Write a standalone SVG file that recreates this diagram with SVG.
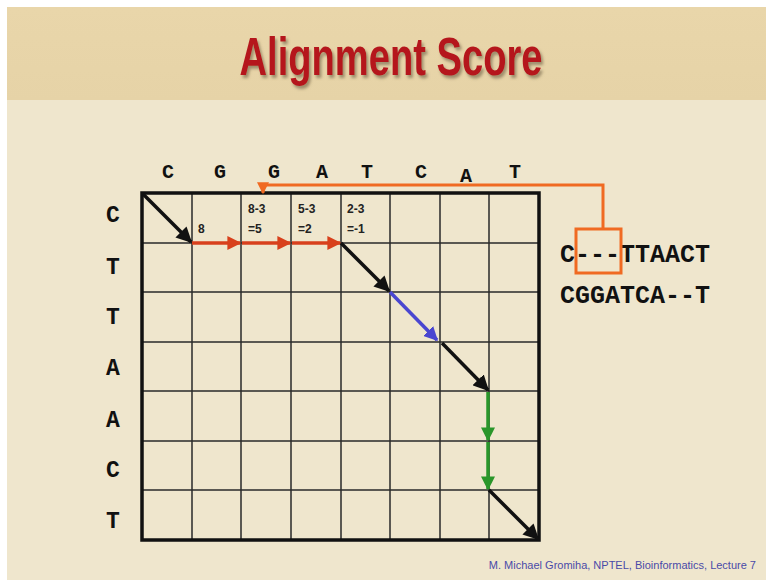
<svg xmlns="http://www.w3.org/2000/svg" width="766" height="580" viewBox="0 0 766 580">
<defs>
<linearGradient id="hdr" x1="0" y1="0" x2="0" y2="1">
<stop offset="0" stop-color="#e9d6aa"/><stop offset="1" stop-color="#e6d3a7"/>
</linearGradient>
<filter id="sh" x="-5%" y="-20%" width="110%" height="150%"><feDropShadow dx="2" dy="3" stdDeviation="1.5" flood-color="#6b5a40" flood-opacity="0.6"/></filter>
<marker id="ak" viewBox="0 0 10 10" refX="9" refY="5" markerWidth="4.5" markerHeight="4.5" orient="auto" markerUnits="strokeWidth"><path d="M0,0 L10,5 L0,10 z" fill="#111"/></marker>
<marker id="ar" viewBox="0 0 10 10" refX="9" refY="5" markerWidth="4" markerHeight="4" orient="auto" markerUnits="strokeWidth"><path d="M0,0 L10,5 L0,10 z" fill="#d8401c"/></marker>
<marker id="ab" viewBox="0 0 10 10" refX="9" refY="5" markerWidth="4" markerHeight="4" orient="auto" markerUnits="strokeWidth"><path d="M0,0 L10,5 L0,10 z" fill="#4a46d0"/></marker>
<marker id="ag" viewBox="0 0 10 10" refX="9" refY="5" markerWidth="4" markerHeight="4" orient="auto" markerUnits="strokeWidth"><path d="M0,0 L10,5 L0,10 z" fill="#2a962a"/></marker>
<marker id="ao" viewBox="0 0 10 10" refX="9" refY="5" markerWidth="4" markerHeight="4" orient="auto" markerUnits="strokeWidth"><path d="M0,0 L10,5 L0,10 z" fill="#f06a22"/></marker>
</defs>
<style>
.grid{stroke:#2a2a2a;stroke-width:1.5;fill:none}
.frame{stroke:#111;stroke-width:3.5;fill:none}
.hd{font-family:"Liberation Mono","DejaVu Sans Mono",monospace;font-weight:bold;font-size:20px;fill:#111;text-anchor:middle}
.rw{font-family:"Liberation Mono","DejaVu Sans Mono",monospace;font-weight:bold;font-size:23px;fill:#111;text-anchor:middle}
.num{font-family:"Liberation Sans Narrow","Liberation Sans",sans-serif;font-weight:bold;font-size:12px;fill:#222}
.seq{font-family:"Liberation Mono","DejaVu Sans Mono",monospace;font-weight:bold;font-size:25px;fill:#111}
.blk{stroke:#111;stroke-width:3.5;fill:none;marker-end:url(#ak)}
.red{stroke:#d8401c;stroke-width:3.5;fill:none;marker-end:url(#ar)}
.blu{stroke:#4a46d0;stroke-width:3.5;fill:none;marker-end:url(#ab)}
.grn{stroke:#2a962a;stroke-width:3.5;fill:none;marker-end:url(#ag)}
.org{stroke:#f06a22;stroke-width:3;fill:none}
</style>
<rect width="766" height="580" fill="#ffffff"/>
<rect x="7" y="7" width="759" height="573" fill="#efe6cd"/>
<rect x="7" y="7" width="759" height="93" fill="url(#hdr)"/>
<text x="391" y="75" font-family="Liberation Sans Narrow,Liberation Sans,sans-serif" font-weight="bold" font-size="54" fill="#b5151e" text-anchor="middle" textLength="303" lengthAdjust="spacingAndGlyphs" filter="url(#sh)">Alignment Score</text>

<g id="grid">
<path class="grid" d="M192,193V540M241,193V540M291,193V540M341,193V540M390,193V540M440,193V540M489,193V540M142,243H539M142,292H539M142,342H539M142,391H539M142,441H539M142,490H539"/>
<rect class="frame" x="142" y="193" width="397" height="347"/>
</g>

<g id="col-headers">
<text class="hd" x="168" y="178">C</text>
<text class="hd" x="220" y="178">G</text>
<text class="hd" x="274" y="178">G</text>
<text class="hd" x="322" y="178">A</text>
<text class="hd" x="367" y="178">T</text>
<text class="hd" x="421" y="178">C</text>
<text class="hd" x="466" y="182">A</text>
<text class="hd" x="515" y="178">T</text>
</g>
<g id="row-headers">
<text class="rw" x="113" y="222">C</text>
<text class="rw" x="113" y="274">T</text>
<text class="rw" x="113" y="324">T</text>
<text class="rw" x="113" y="375">A</text>
<text class="rw" x="113" y="427">A</text>
<text class="rw" x="113" y="477">C</text>
<text class="rw" x="113" y="528">T</text>
</g>
<g id="scores">
<text class="num" x="198" y="233">8</text>
<text class="num" x="248" y="213">8-3</text>
<text class="num" x="248" y="233">=5</text>
<text class="num" x="298" y="213">5-3</text>
<text class="num" x="298" y="233">=2</text>
<text class="num" x="347" y="213">2-3</text>
<text class="num" x="347" y="233">=-1</text>
</g>

<g id="connectors">
<line class="blk" x1="143" y1="194" x2="191" y2="242"/>
<line class="red" x1="192" y1="243" x2="240" y2="243"/>
<line class="red" x1="242" y1="243" x2="290" y2="243"/>
<line class="red" x1="292" y1="243" x2="340" y2="243"/>
<line class="blk" x1="341" y1="243" x2="389" y2="291"/>
<line class="blu" x1="390" y1="292" x2="437" y2="340"/>
<line class="blk" x1="442" y1="343" x2="488" y2="390"/>
<line class="grn" x1="488" y1="392" x2="488" y2="440"/>
<line class="grn" x1="488" y1="442" x2="488" y2="489"/>
<line class="blk" x1="489" y1="490" x2="538" y2="539"/>
<path class="org" d="M603,229V185H263V193" marker-end="url(#ao)"/>
</g>

<g id="alignment">
<text class="seq" x="560" y="262">C---TTAACT</text>
<text class="seq" x="560" y="303">CGGATCA--T</text>
<rect class="org" x="576" y="229" width="45" height="44"/>
</g>

<text x="756" y="569" font-family="Liberation Sans Narrow,Liberation Sans,sans-serif" font-size="11" fill="#4a4aa8" text-anchor="end">M. Michael Gromiha,  NPTEL, Bioinformatics, Lecture 7</text>
</svg>
